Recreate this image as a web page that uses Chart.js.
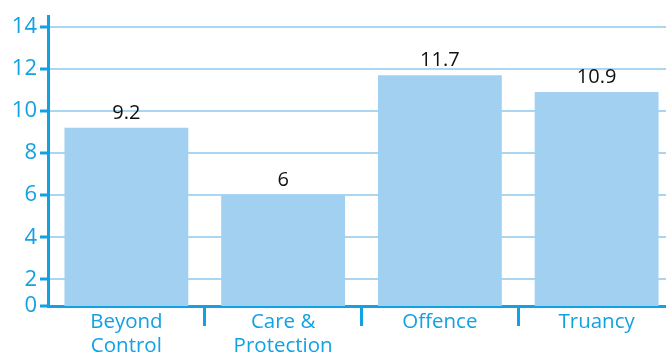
<!DOCTYPE html>
<html>
<head>
<meta charset="utf-8">
<script src="https://cdn.jsdelivr.net/npm/chart.js@4"></script>
<style>
  html, body { margin: 0; padding: 0; background: #fff; overflow: hidden; }
  #wrap { width: 676px; height: 356px; position: relative; }
</style>
</head>
<body>
<div id="wrap"><canvas id="chart"></canvas></div>
<script>
// ======== Data ========
const categories = [['Beyond', 'Control'], ['Care &', 'Protection'], 'Offence', 'Truancy'];
const values = [9.2, 6, 11.7, 10.9];
const tickValues = [0, 2, 4, 6, 8, 10, 12, 14];

// axis starts a little above zero but the bottom tick is still labelled 0
const yMin = 0.74;
const yMax = 14.5;

// ======== Colours ========
const blue = '#12a1e3';
const gridBlue = '#a9d6f3';
const barBlue = '#a2d0f1';
const font = '"Open Sans", "Noto Sans", sans-serif';

// ======== Plugins ========
const valueLabels = {
  id: 'valueLabels',
  afterDatasetsDraw(chart) {
    const ctx = chart.ctx;
    const meta = chart.getDatasetMeta(0);
    ctx.save();
    ctx.fillStyle = '#111';
    ctx.font = '20px ' + font;
    ctx.textAlign = 'center';
    ctx.textBaseline = 'bottom';
    meta.data.forEach((bar, i) => {
      ctx.fillText(String(values[i]), bar.x, bar.y - 5);
    });
    ctx.restore();
  }
};

// ======== Chart ========
new Chart(document.getElementById('chart'), {
  type: 'bar',
  data: {
    labels: categories,
    datasets: [{
      data: values,
      backgroundColor: barBlue,
      borderWidth: 0,
      barPercentage: 0.79,
      categoryPercentage: 1
    }]
  },
  options: {
    responsive: true,
    maintainAspectRatio: false,
    animation: false,
    layout: { padding: { top: 12, right: 1, left: 0, bottom: 0 } },
    plugins: {
      legend: { display: false },
      tooltip: { enabled: false }
    },
    scales: {
      x: {
        offset: true,
        border: { color: blue, width: 3 },
        grid: {
          offset: true,
          drawOnChartArea: false,
          drawTicks: true,
          tickLength: 20,
          tickWidth: 3,
          tickColor: (c) => (c.index === 0 ? 'rgba(0,0,0,0)' : blue)
        },
        ticks: {
          color: blue,
          font: { family: font, size: 20.5, lineHeight: 1.17 },
          padding: -16,
          maxRotation: 0,
          autoSkip: false
        },
        afterFit(scale) { scale.height = 50; }
      },
      y: {
        min: yMin,
        max: yMax,
        border: { color: blue, width: 3 },
        grid: {
          color: (c) => (c.index === 0 ? 'rgba(0,0,0,0)' : gridBlue),
          lineWidth: 2,
          tickLength: 8,
          tickWidth: 3,
          tickColor: blue
        },
        afterBuildTicks(scale) {
          scale.ticks = tickValues.map(v => ({ value: v === 0 ? yMin : v }));
        },
        ticks: {
          color: blue,
          font: { family: font, size: 22 },
          padding: 3,
          callback: (v, i) => String(tickValues[i])
        },
        afterFit(scale) { scale.width = 48; }
      }
    }
  },
  plugins: [valueLabels]
});
</script>
</body>
</html>
